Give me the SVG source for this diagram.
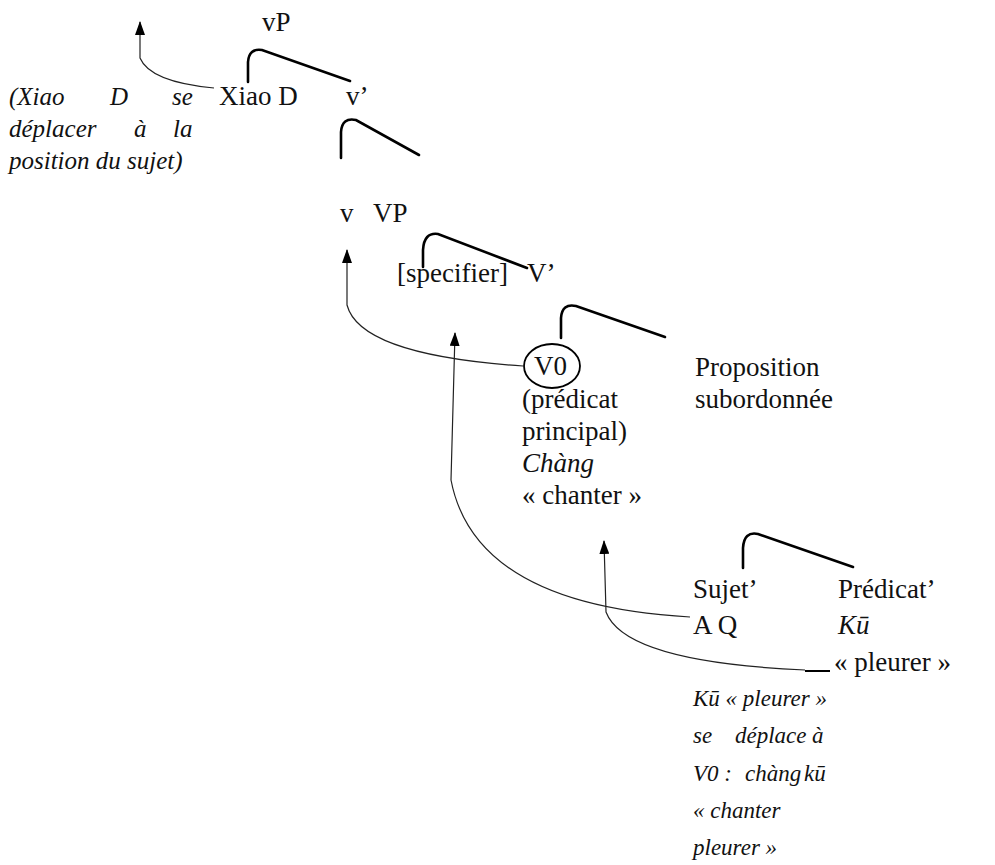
<svg xmlns="http://www.w3.org/2000/svg" width="995" height="865" viewBox="0 0 995 865">
<defs>
<marker id="ah" viewBox="0 0 14 10" refX="13" refY="5" markerWidth="14" markerHeight="10" markerUnits="userSpaceOnUse" orient="auto-start-reverse">
<path d="M0,0 L14,5 L0,10 Z" fill="#000"/>
</marker>
</defs>
<rect width="995" height="865" fill="#fff"/>
<g id="connectors">
<g fill="none" stroke="#000" stroke-width="2.6" stroke-linecap="round">
<path d="M248,82 L248,62 Q249,48 262,50 L350,81"/>
<path d="M341,158 L341,132 Q342,117 356,120 L419,155"/>
<path d="M423,267 L423,250 Q424,232 438,234 L527,268"/>
<path d="M561,338 L561,318 Q562,303 576,306 L665,337"/>
<path d="M743,568 L743,548 Q744,531 758,534 L853,567"/>
</g>
<g fill="none" stroke="#222" stroke-width="1.2">
<path marker-start="url(#ah)" d="M140,22 L140,58 Q150,82 214,88"/>
<path marker-start="url(#ah)" d="M347,250 L347,305 Q360,355 523,366"/>
<path marker-start="url(#ah)" d="M455,333 L451,480 Q475,605 690,617"/>
<path marker-start="url(#ah)" d="M604,541 L606,612 Q625,662 805,670"/>
</g>
<path fill="none" stroke="#000" stroke-width="2" d="M805,671 L830,671"/>
</g>
<g id="n-vP"><text style="font-family:'Liberation Serif',serif !important;font-size:27px" fill="#111" x="262" y="31">vP</text></g>
<g id="n-xiaod"><text style="font-family:'Liberation Serif',serif !important;font-size:27px" fill="#111" x="219" y="105">Xiao D</text></g>
<g id="n-v1"><text font-family="Times New Roman" font-size="27" fill="#111" x="346" y="105">v’</text></g>
<g id="n-note1">
<text style="font-family:'Liberation Serif',serif !important;font-size:25px;font-style:italic" fill="#111" x="9" y="105">(Xiao</text>
<text style="font-family:'Liberation Serif',serif !important;font-size:25px;font-style:italic" fill="#111" x="110" y="105">D</text>
<text style="font-family:'Liberation Serif',serif !important;font-size:25px;font-style:italic" fill="#111" x="172" y="105">se</text>
<text style="font-family:'Liberation Serif',serif !important;font-size:25px;font-style:italic" fill="#111" x="9" y="137">déplacer</text>
<text style="font-family:'Liberation Serif',serif !important;font-size:25px;font-style:italic" fill="#111" x="134" y="137">à</text>
<text style="font-family:'Liberation Serif',serif !important;font-size:25px;font-style:italic" fill="#111" x="173" y="137">la</text>
<text style="font-family:'Liberation Serif',serif !important;font-size:25px;font-style:italic" fill="#111" x="9" y="169">position du sujet)</text>
</g>
<g id="n-v"><text style="font-family:'Liberation Serif',serif !important;font-size:27px" fill="#111" x="340" y="222">v</text></g>
<g id="n-VP"><text style="font-family:'Liberation Serif',serif !important;font-size:27px" fill="#111" x="373" y="222">VP</text></g>
<g id="n-spec"><text style="font-family:'Liberation Serif',serif !important;font-size:27px" fill="#111" x="397" y="282">[specifier]</text></g>
<g id="n-V1"><text style="font-family:'Liberation Serif',serif !important;font-size:27px" fill="#111" x="527" y="282">V’</text></g>
<g id="n-V0">
<ellipse cx="552" cy="366" rx="28" ry="22" fill="none" stroke="#000" stroke-width="1.8"/>
<text style="font-family:'Liberation Serif',serif !important;font-size:27px" fill="#111" x="534" y="375">V0</text>
<text style="font-family:'Liberation Serif',serif !important;font-size:27px" fill="#111" x="522" y="408">(prédicat</text>
<text style="font-family:'Liberation Serif',serif !important;font-size:27px" fill="#111" x="522" y="440">principal)</text>
<text style="font-family:'Liberation Serif',serif !important;font-size:27px;font-style:italic" fill="#111" x="522" y="472">Chàng</text>
<text style="font-family:'Liberation Serif',serif !important;font-size:27px" fill="#111" x="522" y="504">« chanter »</text>
</g>
<g id="n-prop">
<text style="font-family:'Liberation Serif',serif !important;font-size:27px" fill="#111" x="695" y="376">Proposition</text>
<text style="font-family:'Liberation Serif',serif !important;font-size:27px" fill="#111" x="695" y="408">subordonnée</text>
</g>
<g id="n-sujet">
<text style="font-family:'Liberation Serif',serif !important;font-size:27px" fill="#111" x="693" y="598">Sujet’</text>
<text style="font-family:'Liberation Serif',serif !important;font-size:27px" fill="#111" x="693" y="634">A Q</text>
</g>
<g id="n-pred">
<text style="font-family:'Liberation Serif',serif !important;font-size:27px" fill="#111" x="838" y="598">Prédicat’</text>
<text style="font-family:'Liberation Serif',serif !important;font-size:27px;font-style:italic" fill="#111" x="838" y="634">Kū</text>
<text style="font-family:'Liberation Serif',serif !important;font-size:27px" fill="#111" x="834" y="671">« pleurer »</text>
</g>
<g id="n-note2">
<text style="font-family:'Liberation Serif',serif !important;font-size:23px;font-style:italic" fill="#111" x="693" y="706">Kū « pleurer »</text>
<text style="font-family:'Liberation Serif',serif !important;font-size:23px;font-style:italic" fill="#111" x="693" y="743">se</text>
<text style="font-family:'Liberation Serif',serif !important;font-size:23px;font-style:italic" fill="#111" x="735" y="743">déplace</text>
<text style="font-family:'Liberation Serif',serif !important;font-size:23px;font-style:italic" fill="#111" x="812" y="743">à</text>
<text style="font-family:'Liberation Serif',serif !important;font-size:23px;font-style:italic" fill="#111" x="693" y="781">V0 :</text>
<text style="font-family:'Liberation Serif',serif !important;font-size:23px;font-style:italic" fill="#111" x="745" y="781">chàng</text>
<text style="font-family:'Liberation Serif',serif !important;font-size:23px;font-style:italic" fill="#111" x="804" y="781">kū</text>
<text style="font-family:'Liberation Serif',serif !important;font-size:23px;font-style:italic" fill="#111" x="693" y="818">« chanter</text>
<text style="font-family:'Liberation Serif',serif !important;font-size:23px;font-style:italic" fill="#111" x="693" y="855">pleurer »</text>
</g>
</svg>
